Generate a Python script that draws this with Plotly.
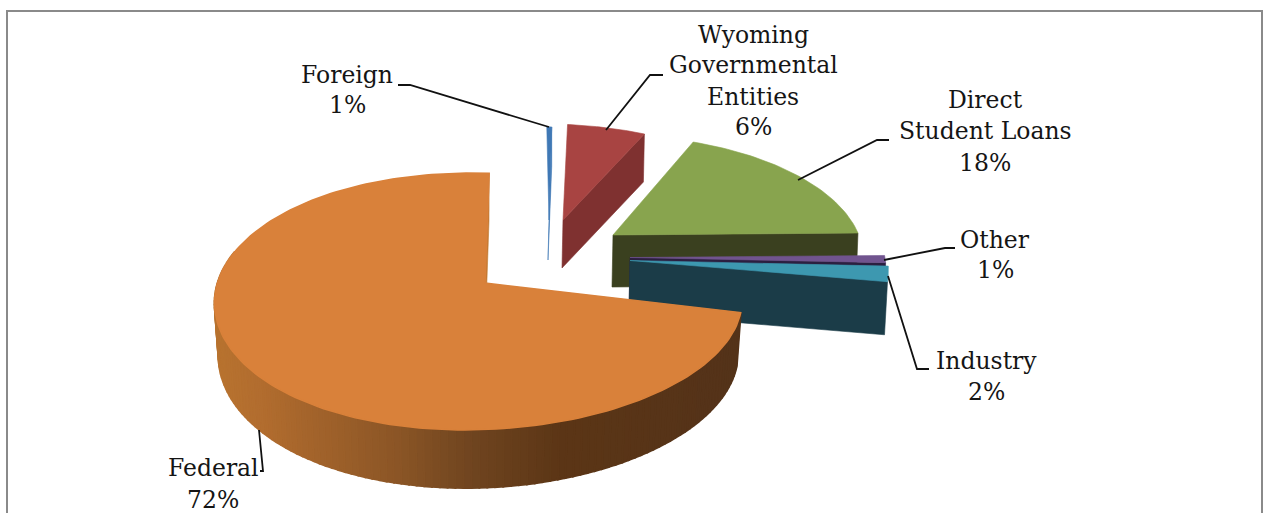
import math
import plotly.graph_objects as go

# ---- data ----
categories = ["Foreign", "Wyoming Governmental Entities", "Direct Student Loans", "Other", "Industry", "Federal"]
values = [0.4, 6.0, 18.0, 1.0, 2.0, 72.6]
percent_labels = ["1%", "6%", "18%", "1%", "2%", "72%"]
label_lines = [["Foreign"], ["Wyoming", "Governmental", "Entities"], ["Direct", "Student Loans"],
               ["Other"], ["Industry"], ["Federal"]]

# ---- styling / projection of the 3-D pie (pixel space) ----
W, H = 1269, 513
START_ANGLE = 4.5
RX, RY, PERSP = 261.0, 125.8, 0.144
TOP = ["#3f78b5", "#a84442", "#88a44e", "#71548f", "#3d98b0", "#d9813a"]
WALL = ["#3f78b5", "#7f3130", "#3a401f", "#2b1f40", "#1b3c48", "#c47a33"]
ANCHOR = [(549, 220), (565, 223), (613, 238), (630, 257.5), (630, 260.5), (478.5, 283)]
TIP = [(549, 220), (563, 220), (613, 235), (630, 257.5), (630, 260.5), (485, 283)]
SCALE = [0.85, 0.90, 0.93, 0.97, 0.98, 1.0]
SHEAR_X = [0.187, 0.19, 0.21, 0.0, 0.0, 0.0]
SHEAR_Y = [0.0, 0.0, -0.04, -0.03, -0.03, 0.0]
BOW = [0, 0, 0, 0, 0, -13]
DEPTH = [40, 48, 52, 53, 53, 52]
WALL_DX = [0, -1, -2, -1, -3, 0]
LABEL_X = [347, 753, 985, 995, 986, 213]
LABEL_Y = [[75, 105], [35, 65, 97, 127], [100, 131, 163], [240, 270], [361, 392], [468, 500]]
LEADERS = [
    [(398, 85), (410, 85), (549, 127)],
    [(606, 130), (650, 75), (663, 75)],
    [(798, 180), (877, 140), (889, 140)],
    [(884, 260), (945, 248), (955, 248)],
    [(888, 276), (917, 369), (929, 369)],
    [(259, 430), (263, 471), (260, 471)],
]
FONT = dict(family="DejaVu Serif", size=23.5, color="#151515")
WALL_STOPS = [(215, (184, 115, 47)), (260, (178, 109, 47)), (400, (138, 85, 38)),
              (470, (112, 69, 32)), (560, (92, 54, 22)), (745, (84, 51, 26))]


def project(i, theta):
    t = math.radians(theta)
    u, v = math.sin(t), math.cos(t)
    s = 1 / (1 + PERSP * v)
    dx = SCALE[i] * RX * u * s
    dy = -SCALE[i] * RY * v * s
    ax, ay = ANCHOR[i]
    return ax + dx + SHEAR_X[i] * dy + BOW[i] * (dy / 147.0) ** 2, ay + dy + SHEAR_Y[i] * dx


def degrees(a, b, n):
    return [a + (b - a) * k / n for k in range(n + 1)]


def wall_colour(x):
    for (x0, c0), (x1, c1) in zip(WALL_STOPS, WALL_STOPS[1:]):
        if x <= x1:
            f = max(0.0, (x - x0) / (x1 - x0))
            return "rgb(%d,%d,%d)" % tuple(c0[j] + (c1[j] - c0[j]) * f for j in range(3))
    return "rgb(%d,%d,%d)" % WALL_STOPS[-1][1]


fig = go.Figure()


def poly(pts, colour, stroke=0.6):
    fig.add_trace(go.Scatter(
        x=[p[0] for p in pts] + [pts[0][0]], y=[p[1] for p in pts] + [pts[0][1]],
        mode="lines", fill="toself", fillcolor=colour,
        line=dict(color=colour, width=stroke), hoverinfo="skip", showlegend=False))


total = sum(values)
angle = START_ANGLE
spans = []
for val in values:
    spans.append((angle, angle + val / total * 360))
    angle = spans[-1][1]

for i, (a0, a1) in enumerate(spans):
    tip = TIP[i]
    d = DEPTH[i]
    if i < 5:
        # the cut wall on the clockwise side shows beneath the slice
        end = project(i, a1)
        poly([tip, end, (end[0] + WALL_DX[i], end[1] + d), (tip[0] - 1, tip[1] + d)], WALL[i])
        arc = [project(i, th) for th in degrees(a0, a1, 40)]
        poly([tip] + arc, TOP[i])
    else:
        # federal: outer curved wall as shaded strips, depth grows toward viewer
        def lower(p):
            v = (283 - p[1]) / 147.0
            return (ANCHOR[i][0] + (p[0] - ANCHOR[i][0]) * 0.985, p[1] + d - 6 * v)
        thetas = degrees(a0, 285, 120)
        for t0, t1 in zip(thetas, thetas[1:]):
            p0, p1 = project(i, t0), project(i, t1)
            poly([p0, p1, lower(p1), lower(p0)], wall_colour((p0[0] + p1[0]) / 2), stroke=2)
        end = project(i, a1)
        poly([tip, end, lower(end), (tip[0], tip[1] + d)], WALL[i])
        arc = [project(i, th) for th in degrees(a0, a1, 180)]
        poly([tip] + arc, TOP[i], stroke=1.5)

for pts in LEADERS:
    fig.add_trace(go.Scatter(x=[p[0] for p in pts], y=[p[1] for p in pts], mode="lines",
                             line=dict(color="#111111", width=1.8), hoverinfo="skip", showlegend=False))

annotations = []
for i, lines in enumerate(label_lines):
    for text, y in zip(lines + [percent_labels[i]], LABEL_Y[i]):
        annotations.append(dict(x=LABEL_X[i], y=y, xref="x", yref="y", text=text, showarrow=False,
                                font=FONT, xanchor="center", yanchor="middle"))

fig.update_layout(
    width=W, height=H, autosize=False,
    margin=dict(l=0, r=0, t=0, b=0),
    paper_bgcolor="white", plot_bgcolor="white",
    xaxis=dict(range=[0, W], visible=False, fixedrange=True),
    yaxis=dict(range=[H, 0], visible=False, fixedrange=True),
    annotations=annotations,
    shapes=[dict(type="path", xref="x", yref="y", path="M 7 514 L 7 11 L 1262 11 L 1262 514",
                 line=dict(color="#8a8a8a", width=2))],
)
fig.write_html("out.html", config={"displayModeBar": False},
               post_script="document.body.style.margin='0';document.body.style.overflow='hidden';")
